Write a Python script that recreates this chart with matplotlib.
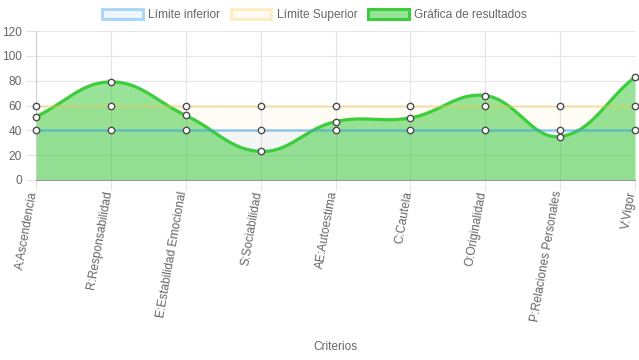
import numpy as np
import matplotlib
matplotlib.use("Agg")
import matplotlib.pyplot as plt
from matplotlib.patches import Patch

plt.rcParams['font.family'] = ['Liberation Sans', 'DejaVu Sans']

# Data
criterios = ["A:Ascendencia", "R:Responsabilidad", "E:Estabilidad Emocional",
             "S:Sociabilidad", "AE:Autoestima", "C:Cautela", "O:Originalidad",
             "P:Relaciones Personales", "V:Vigor"]
limite_inferior = [40, 40, 40, 40, 40, 40, 40, 40, 40]
limite_superior = [60, 60, 60, 60, 60, 60, 60, 60, 60]
resultados = [51, 79, 52, 23, 47, 50, 68, 35, 83]

W, H = 639, 360
fig = plt.figure(figsize=(W / 100, H / 100), dpi=100)
L, R, T, B = 36, 635, 31, 180
ax = fig.add_axes([L / W, 1 - B / H, (R - L) / W, (B - T) / H])

ymax = 120
sx = (R - L) / (len(criterios) - 1)   # px per category
sy = (B - T) / ymax                    # px per unit
fs = 8.6


def spline(xs, ys, t=0.4, n=40):
    # Chart.js-style cubic spline (tension 0.4), computed in pixel space
    px = np.asarray(xs, float) * sx
    py = np.asarray(ys, float) * sy
    k = len(px)
    c1, c2 = [], []
    for i in range(k):
        p0 = (px[max(i - 1, 0)], py[max(i - 1, 0)])
        p2 = (px[min(i + 1, k - 1)], py[min(i + 1, k - 1)])
        d01 = np.hypot(px[i] - p0[0], py[i] - p0[1])
        d12 = np.hypot(p2[0] - px[i], p2[1] - py[i])
        s = d01 + d12
        s01 = d01 / s if s else 0
        s12 = d12 / s if s else 0
        fa, fb = t * s01, t * s12
        c1.append((px[i] - fa * (p2[0] - p0[0]), py[i] - fa * (p2[1] - p0[1])))
        c2.append((px[i] + fb * (p2[0] - p0[0]), py[i] + fb * (p2[1] - p0[1])))
    outx, outy = [], []
    u = np.linspace(0, 1, n)
    for i in range(k - 1):
        P0 = np.array([px[i], py[i]])
        P1 = np.array(c2[i])
        P2 = np.array(c1[i + 1])
        P3 = np.array([px[i + 1], py[i + 1]])
        pts = (((1 - u) ** 3)[:, None] * P0 + (3 * (1 - u) ** 2 * u)[:, None] * P1
               + (3 * (1 - u) * u ** 2)[:, None] * P2 + (u ** 3)[:, None] * P3)
        outx.extend(pts[:, 0] / sx)
        outy.extend(pts[:, 1] / sy)
    return np.array(outx), np.array(outy)


x = np.arange(len(criterios))

blue = (54 / 255, 162 / 255, 235 / 255)
yellow = (255 / 255, 206 / 255, 86 / 255)
green = (50 / 255, 200 / 255, 50 / 255)
green_line = '#3ccd3c'

# fills
ax.fill_between(x, 0, limite_superior, color=yellow, alpha=0.06, lw=0, zorder=1)
ax.fill_between(x, 0, limite_inferior, color=blue, alpha=0.06, lw=0, zorder=1)
gx, gy = spline(x, resultados)
ax.fill_between(gx, 0, gy, color=green, alpha=0.5, lw=0, zorder=2)

# lines
ax.plot(gx, gy, color=green_line, lw=2.3, zorder=3, solid_capstyle='round')
ax.plot(x, limite_superior, color=yellow, alpha=0.33, lw=2.0, zorder=4)
ax.plot(x, limite_inferior, color=blue, alpha=0.45, lw=2.0, zorder=4)

# points
for ys in (resultados, limite_superior, limite_inferior):
    ax.plot(x, ys, 'o', ms=4.6, mfc='white', mec='#4d4d4d', mew=1.0,
            zorder=6, clip_on=False)

ax.set_xlim(0, len(criterios) - 1)
ax.set_ylim(0, ymax)
ax.set_yticks(np.arange(0, 121, 20))
ax.set_xticks(x)
ax.set_xticklabels([])
# rotated category labels, nudged a little left so the last one stays on canvas
for i, lab in enumerate(criterios):
    ax.annotate(lab, xy=(x[i], 0), xycoords=('data', 'axes fraction'),
                xytext=(-1.6, -8), textcoords='offset points', rotation=80,
                ha='right', va='center', rotation_mode='anchor',
                fontsize=fs, color='#666666', annotation_clip=False)
ax.grid(True, color='#e4e4e4', lw=0.8, zorder=0)
ax.tick_params(axis='both', colors='#e4e4e4', labelcolor='#666666',
               labelsize=fs, length=7, width=0.8)
ax.tick_params(axis='y', pad=3)
for s in ('top', 'right'):
    ax.spines[s].set_visible(False)
ax.spines['left'].set_color('#cfcfcf')
ax.spines['bottom'].set_color('#9a9a9a')
ax.set_axisbelow(True)

fig.text((L + R) / 2 / W, 1 - 347 / H, "Criterios", ha='center', va='center',
         fontsize=fs, color='#666666')

handles = [
    Patch(facecolor=(*blue, 0.08), edgecolor=(*blue, 0.4), lw=2.2),
    Patch(facecolor=(*yellow, 0.08), edgecolor=(*yellow, 0.33), lw=2.2),
    Patch(facecolor=(*green, 0.5), edgecolor=green_line, lw=2.2),
]
fig.legend(handles, ["Límite inferior", "Límite Superior", "Gráfica de resultados"],
           loc='center', bbox_to_anchor=(314.5 / W, 1 - 15 / H), ncol=3, frameon=False,
           fontsize=fs, labelcolor='#666666', handlelength=3.4, handleheight=0.9,
           handletextpad=0.45, columnspacing=0.9, borderpad=0)

fig.savefig("out.png", dpi=100)
